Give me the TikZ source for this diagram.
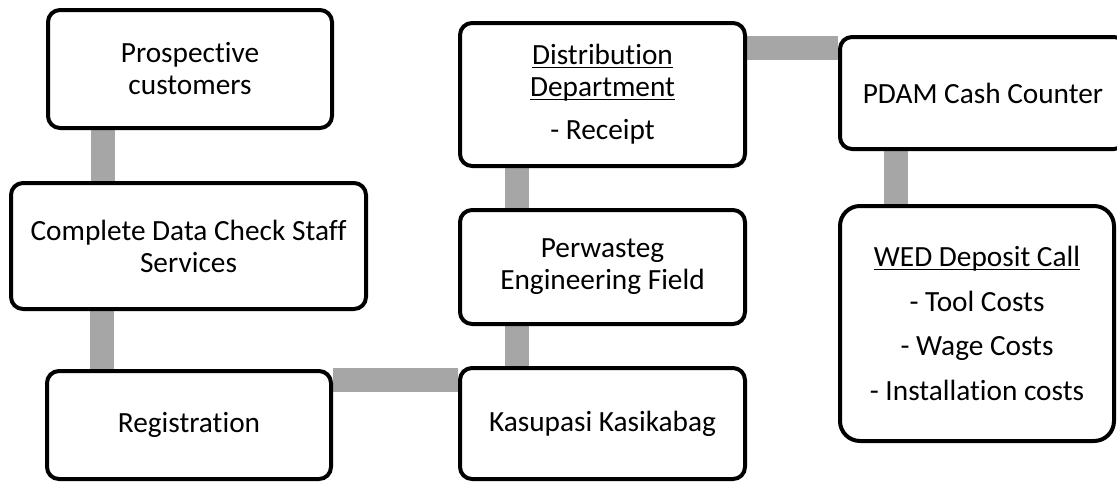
\documentclass[tikz,border=0pt]{standalone}
\usepackage{fontspec}
\setmainfont[Ligatures=CommonOff]{Carlito}
\usetikzlibrary{calc}
\pgfdeclarelayer{background}
\pgfsetlayers{background,main}
\definecolor{conngray}{HTML}{A6A6A6}
\newcommand\myul[1]{\setbox0\hbox{#1}\rlap{\rule[-3.5pt]{\wd0}{1.4pt}}\box0}
\tikzset{
  box/.style={draw=black, line width=4pt, rounded corners=12pt, fill=white,
    align=center, inner sep=0pt, font=\fontsize{29.3}{32}\selectfont},
  conn/.style={draw=conngray, line width=24pt}
}
\begin{document}
\begin{tikzpicture}[x=1pt,y=-1pt]
\useasboundingbox (0,0) rectangle (1117,483);
\clip (0,0) rectangle (1117,483);
% nodes
\node[box, minimum width=284pt, minimum height=118pt] (pc) at (190,69) {Prospective\\customers};
\node[box, minimum width=355pt, minimum height=126pt] (cd) at (188.5,246) {Complete Data Check Staff\\Services};
\node[box, minimum width=284pt, minimum height=108pt] (reg) at (189,425) {Registration};
\node[box, minimum width=285pt, minimum height=143pt] (dist) at (602.5,94.5) {\myul{Distribution}\\\myul{Department}\\[11pt]- Receipt};
\node[box, minimum width=285pt, minimum height=114pt] (perw) at (602.5,267) {Perwasteg\\Engineering Field};
\node[box, minimum width=285pt, minimum height=111pt] (kas) at (602.5,423.5) {Kasupasi Kasikabag};
\node[box, minimum width=286pt, minimum height=112pt] (pdam) at (983,93) {PDAM Cash Counter};
\node[box, rounded corners=20pt, minimum width=274pt, minimum height=235pt, font=\fontsize{29.3}{44.5}\selectfont] (wed) at (977,323.5) {\myul{WED Deposit Call}\\- Tool Costs\\- Wage Costs\\- Installation costs};
% connectors (behind boxes)
\begin{pgfonlayer}{background}
\fill[white] (0,0) rectangle (1117,483);
\path[conn] ([xshift=57pt]pc.south west) -- ([xshift=57pt]pc.south west |- cd.north);
\path[conn] ([xshift=57pt]reg.north west |- cd.south) -- ([xshift=57pt]reg.north west);
\path[conn] ([yshift=-11pt]reg.north east) -- ([yshift=-11pt]reg.north east -| kas.west);
\path[conn] ([xshift=59pt]kas.north west) -- ([xshift=59pt]kas.north west |- perw.south);
\path[conn] ([xshift=59pt]perw.north west) -- ([xshift=59pt]perw.north west |- dist.south);
\path[conn] ([yshift=-13pt]pdam.north west -| dist.east) -- ([yshift=-13pt]pdam.north west);
\path[conn] ([xshift=58pt]wed.north west) -- ([xshift=58pt]wed.north west |- pdam.south);
\end{pgfonlayer}
\end{tikzpicture}
\end{document}
